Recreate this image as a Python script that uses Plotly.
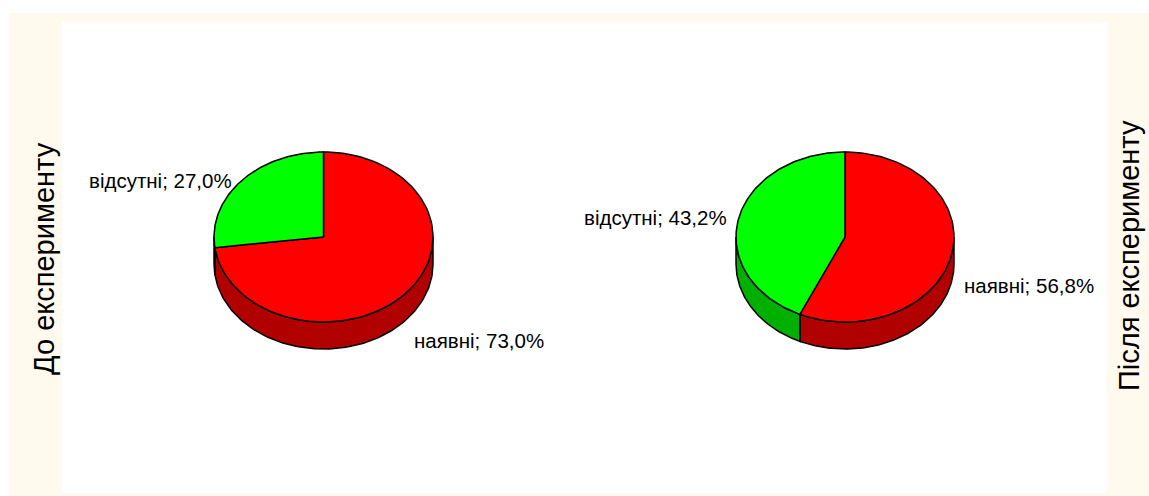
import numpy as np
import plotly.graph_objects as go

# --- data ---------------------------------------------------------------
categories = ["наявні", "відсутні"]
before_values = [73.0, 27.0]
after_values = [56.8, 43.2]
panel_titles = ["До експерименту", "Після експерименту"]

# --- styling ------------------------------------------------------------
W, H = 1149, 496
top_colors = ["#FF0000", "#00FF00"]
side_colors = ["#B00000", "#00B000"]
FONT = "Arial, Liberation Sans, sans-serif"

# pie geometry (pixel coordinates, y grows downwards)
pies = [
    dict(values=before_values, cx=323.5, cy=237.0, rx=109.5, ry=85.0, depth=27.0,
         label_pos=[(479, 340), (160, 180)]),
    dict(values=after_values, cx=845.0, cy=237.0, rx=109.0, ry=85.0, depth=27.0,
         label_pos=[(1029, 285), (655, 217)]),
]


def ellipse_pts(p, a0, a1, n=120, dy=0.0):
    """Points on the pie rim for angles a0..a1 (degrees, clockwise from 12 o'clock)."""
    a = np.radians(np.linspace(a0, a1, n))
    x = p["cx"] + p["rx"] * np.sin(a)
    y = p["cy"] - p["ry"] * np.cos(a) + dy
    return x, y


fig = go.Figure()

for p in pies:
    total = sum(p["values"])
    bounds = np.cumsum([0.0] + [360.0 * v / total for v in p["values"]])

    # side walls: only the front half (90..270 deg) is visible
    for i in range(len(p["values"])):
        a0, a1 = max(bounds[i], 90.0), min(bounds[i + 1], 270.0)
        if a1 <= a0:
            continue
        xt, yt = ellipse_pts(p, a0, a1)
        xb, yb = ellipse_pts(p, a1, a0, dy=p["depth"])
        fig.add_trace(go.Scatter(
            x=np.concatenate([xt, xb, xt[:1]]),
            y=np.concatenate([yt, yb, yt[:1]]),
            mode="lines", fill="toself", fillcolor=side_colors[i],
            line=dict(color="black", width=1.5), hoverinfo="skip", showlegend=False))

    # top faces
    for i in range(len(p["values"])):
        xa, ya = ellipse_pts(p, bounds[i], bounds[i + 1])
        fig.add_trace(go.Scatter(
            x=np.concatenate([[p["cx"]], xa, [p["cx"]]]),
            y=np.concatenate([[p["cy"]], ya, [p["cy"]]]),
            mode="lines", fill="toself", fillcolor=top_colors[i],
            line=dict(color="black", width=1.5), hoverinfo="skip", showlegend=False))

    # data labels
    for i, v in enumerate(p["values"]):
        lx, ly = p["label_pos"][i]
        txt = f"{categories[i]}; {v:.1f}%".replace(".", ",")
        fig.add_annotation(x=lx, y=ly, xref="x", yref="y", text=txt, showarrow=False,
                           font=dict(family=FONT, size=20.5, color="black"))

# vertical panel titles
fig.add_annotation(x=44, y=259, xref="x", yref="y", text=panel_titles[0], textangle=-90,
                   showarrow=False, font=dict(family=FONT, size=29, color="black"))
fig.add_annotation(x=1129, y=256, xref="x", yref="y", text=panel_titles[1], textangle=-90,
                   showarrow=False, font=dict(family=FONT, size=29, color="black"))

fig.update_layout(
    width=W, height=H,
    margin=dict(l=0, r=0, t=0, b=0),
    paper_bgcolor="white", plot_bgcolor="rgba(0,0,0,0)",
    xaxis=dict(range=[0, W], visible=False, fixedrange=True),
    yaxis=dict(range=[H, 0], visible=False, fixedrange=True),
    shapes=[
        dict(type="rect", xref="x", yref="y", x0=9, y0=13, x1=W, y1=H,
             fillcolor="#FFF9EE", line=dict(width=0), layer="below"),
        dict(type="rect", xref="x", yref="y", x0=62, y0=22, x1=1107, y1=493,
             fillcolor="white", line=dict(width=0), layer="below"),
    ],
)

fig.write_html("out.html")
